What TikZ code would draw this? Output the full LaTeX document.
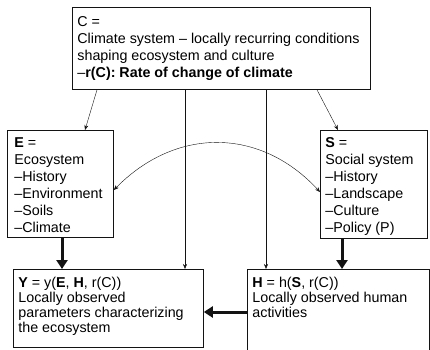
\documentclass[tikz,border=0pt]{standalone}
\usepackage{fontspec}
\setmainfont{Liberation Sans}
\usepackage{xcolor}
\definecolor{frame-black}{HTML}{131313}
\usepackage{tikz}
\usetikzlibrary{arrows.meta}

% text block of a box: width, height, line distance, lines
\newcommand{\boxlines}[4]{\parbox[t][#2][t]{#1}{\fontsize{14.3}{#3}\selectfont\raggedright\strut#4}}

\begin{document}
\begin{tikzpicture}[x=1pt, y=-1pt,
    box/.style={draw=frame-black, line width=0.8pt, anchor=north west, inner xsep=5pt, inner ysep=5pt},
    thin/.style={draw=frame-black, line width=0.4pt, -{Stealth[length=5pt,width=4pt]}},
    heavy/.style={draw=frame-black, line width=3pt, -{Triangle[length=9pt,width=11pt]}}]

    \useasboundingbox (0, 0) rectangle (430, 349);

    % Climate
    \node[box, inner ysep=7pt] (C) at (72, 7)
        {\boxlines{288pt}{68pt}{17pt}{C =\\
         Climate system -- locally recurring conditions\\
         shaping ecosystem and culture\\
         --\textbf{r(C): Rate of change of climate}}};

    % Ecosystem
    \node[box, inner xsep=7pt] (E) at (7, 130)
        {\boxlines{92pt}{97pt}{17pt}{\textbf{E} =\\ Ecosystem\\ --History\\
         --Environment\\ --Soils\\ --Climate}};

    % Social system
    \node[box] (S) at (320, 130)
        {\boxlines{97pt}{98pt}{17pt}{\textbf{S} =\\ Social system\\ --History\\
         --Landscape\\ --Culture\\ --Policy (P)}};

    % observed parameters
    \node[box, inner ysep=8pt] (Y) at (13, 269)
        {\boxlines{180pt}{62pt}{15pt}{\textbf{Y} = y(\textbf{E}, \textbf{H}, r(C))\\
         Locally observed\\ parameters characterizing\\ the ecosystem}};

    % human activities
    \node[box, inner ysep=8pt] (H) at (247, 269)
        {\boxlines{172pt}{75pt}{15pt}{\textbf{H} = h(\textbf{S}, r(C))\\
         Locally observed human\\ activities}};

    % thin links
    \draw[thin] ([xshift=25pt]C.south west) -- ([xshift=78pt]E.north west);
    \draw[thin] ([xshift=245pt]C.south west) -- ([xshift=18pt]S.north west);
    \draw[thin] ([xshift=113pt]C.south west) -- ([xshift=172pt]Y.north west);
    \draw[thin] ([xshift=194pt]C.south west) -- ([xshift=19pt]H.north west);

    % E <-> S
    \draw[thin, {Stealth[length=5pt,width=4pt]}-{Stealth[length=5pt,width=4pt]}]
        ([yshift=-60pt]E.north east) .. controls +(62, -63) and +(-60, -65) .. ([yshift=-62pt]S.north west);

    % heavy links
    \draw[heavy] ([xshift=55pt]E.south west) -- ([xshift=49pt]Y.north west);
    \draw[heavy] ([xshift=22pt]S.south west) -- ([xshift=95pt]H.north west);
    \draw[heavy] ([yshift=-43pt]H.north west) -- ([yshift=-43pt]Y.north east);

\end{tikzpicture}
\end{document}
